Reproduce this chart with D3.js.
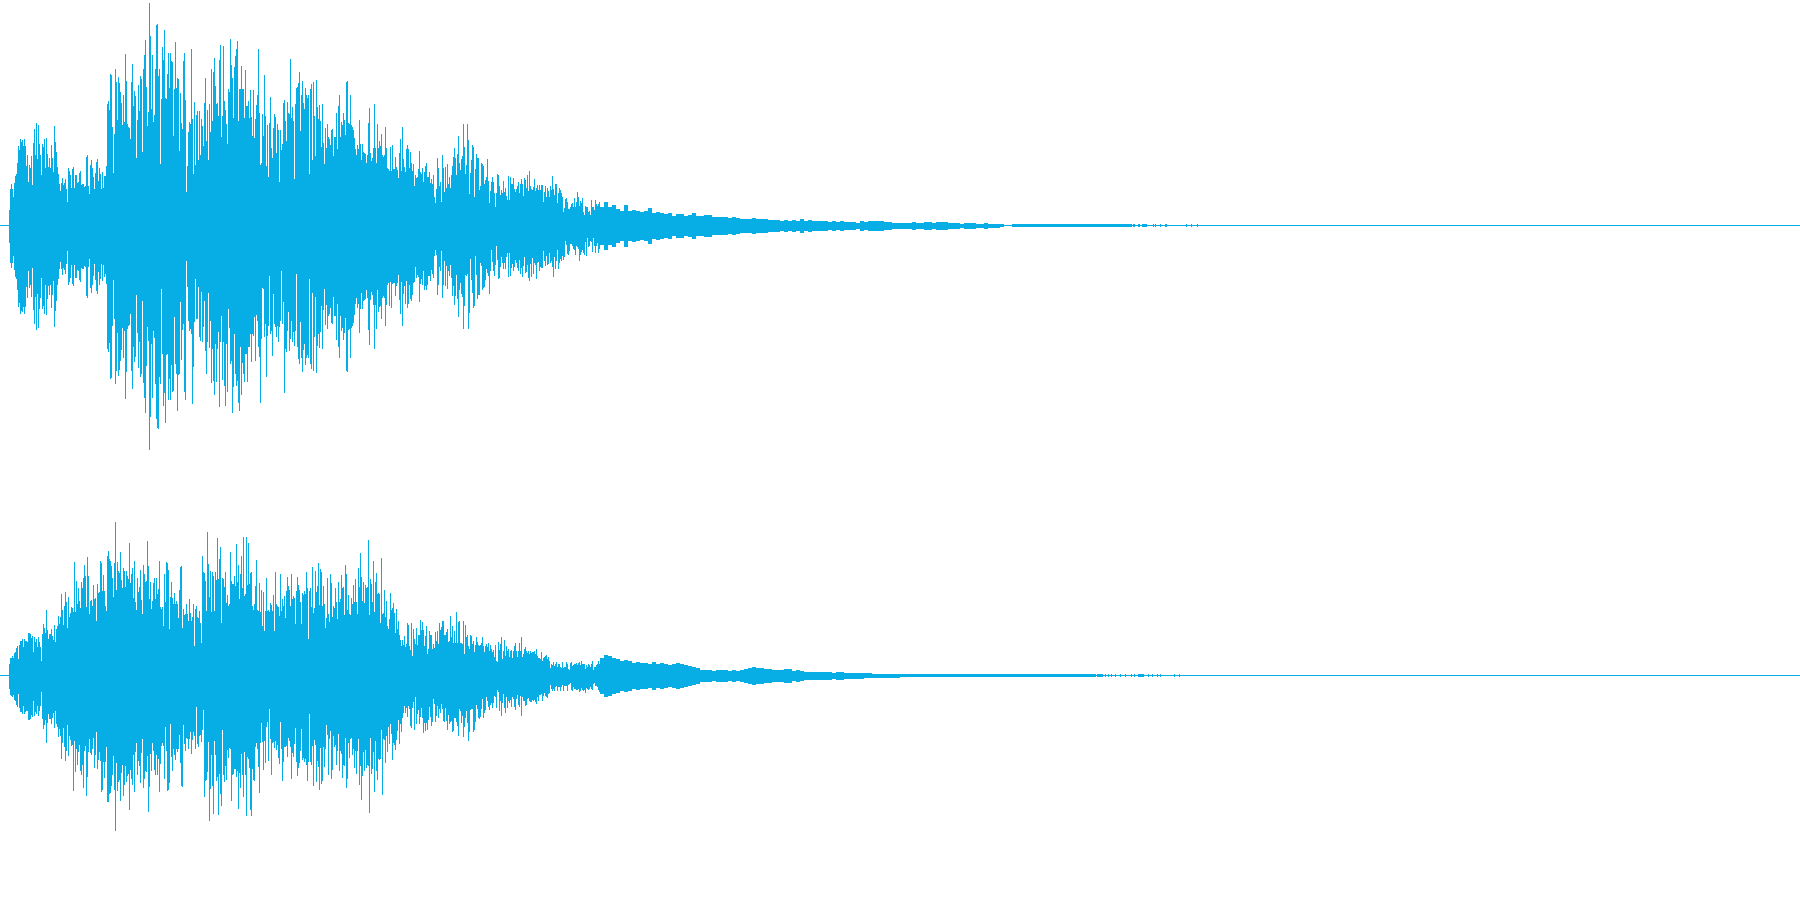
<!DOCTYPE html>
<html><head><meta charset="utf-8">
<style>html,body{margin:0;padding:0;background:#fff;overflow:hidden}svg{display:block}</style>
<script src="https://cdn.jsdelivr.net/npm/d3@7"></script></head><body>
<script>
// Peak levels per column; full scale is 225. Early arrays start at sample 9, late arrays at sample 300.
const ch1TopEarly=[16,37,42,37,29,43,50,52,63,80,76,87,84,86,80,87,80,60,71,44,
61,58,70,41,83,97,71,103,67,101,82,71,51,82,79,87,58,88,72,59,
68,58,81,68,54,100,84,74,59,52,42,35,43,48,41,43,47,37,24,58,
55,51,38,57,59,38,51,51,43,44,53,55,41,42,42,39,40,69,71,40,
32,61,66,58,49,37,53,64,67,45,58,52,37,54,38,50,50,60,122,125,
116,152,151,99,53,92,157,144,106,149,143,134,123,101,131,104,172,145,102,99,
98,87,144,162,120,135,130,68,106,141,115,150,147,74,157,171,186,139,100,114,
223,190,117,171,104,111,157,201,202,150,157,62,127,179,166,196,128,127,152,173,
138,173,165,164,90,137,184,138,148,147,75,133,103,97,165,173,126,34,60,94,
104,102,177,107,52,124,61,111,115,66,115,71,107,100,80,123,148,85,116,66,
122,94,157,105,154,168,140,122,123,110,166,181,89,110,180,125,116,102,82,137,
134,187,161,148,108,159,170,177,185,105,137,137,160,137,137,108,156,120,120,125,
108,136,109,90,136,88,107,121,131,177,113,61,63,112,90,151,110,60,101,49,
103,129,78,68,98,112,109,73,102,96,44,96,76,82,123,126,105,85,124,113,
112,167,108,119,105,47,122,138,139,143,154];
const ch1TopLate=[95,131,145,123,117,138,131,128,131,52,137,142,66,144,110,70,146,119,107,121,
105,79,122,83,62,98,78,102,89,87,81,96,97,70,89,89,113,77,120,131,
89,104,101,113,106,91,144,145,103,102,131,101,99,96,88,77,71,81,77,106,
82,66,82,74,73,72,63,71,103,118,73,65,68,78,122,78,63,102,78,85,
80,92,71,69,71,99,78,58,57,55,79,55,81,57,57,69,59,56,48,73,
87,55,99,67,59,54,77,81,77,58,74,63,55,62,40,51,48,49,57,75,
54,52,58,44,54,60,63,49,49,54,43,47,42,51,29,23,37,68,58,40,
44,24,71,58,34,59,38,62,42,49,38,51,60,69,78,68,51,72,90,63,
56,67,70,102,79,52,61,102,86,32,53,66,81,79,29,57,72,68,68,36,
40,63,62,60,42,46,49,67,45,23,35,44,49,44,33,19,33,52,51,40,
31,36,33,45,34,38,30,26,50,26,49,42,42,48,37,34,37,40,44,33,
42,47,42,30,48,46,38,51,35,55,40,37,36,39,47,35,38,41,36,41,
36,41,41,24,34,40,29,38,35,29,40,36,50,37,31,42,42,23,33,38,
36,33,29,14,18,27,28,24,17,17,19,22,23,19,28,19,24,34,29,20,
25,23,28,14,11,20,19,19,14,15,11,26,19,19,16,26,22,20,22,24];
const ch1BottomEarly=[17,37,42,37,30,44,51,53,64,81,77,88,85,86,81,88,81,61,72,45,
62,59,71,42,84,98,71,104,68,102,83,72,52,83,80,88,59,89,73,60,
69,59,82,69,55,101,85,75,59,53,43,36,43,49,42,44,48,38,25,59,
56,52,39,58,60,39,52,52,44,45,54,56,42,43,43,40,41,70,72,41,
33,62,67,59,50,38,54,65,68,46,59,53,38,55,39,51,48,58,123,126,
117,153,152,100,54,93,158,145,107,150,144,135,124,102,132,105,173,146,103,100,
99,88,145,163,121,136,131,69,107,142,116,151,148,75,157,172,187,140,101,115,
224,191,118,172,105,112,158,193,202,203,151,158,63,128,180,167,197,129,128,174,
153,174,139,166,165,91,138,148,185,149,148,76,134,104,98,166,174,35,61,95,
105,103,108,178,141,96,53,93,93,61,111,115,66,116,101,75,125,148,116,67,122,95,
157,123,155,169,118,156,123,106,181,116,90,154,116,160,180,118,166,83,102,138,
135,187,161,108,148,160,155,177,185,121,169,137,148,156,128,128,156,121,121,108,
136,108,110,91,135,89,95,121,131,177,113,62,63,111,98,151,110,100,50,108,
105,130,68,98,101,111,100,116,101,95,45,98,76,167,123,126,105,86,125,113,
95,116,106,120,105,48,121,133,138,155];
const ch1BottomLate=[96,132,146,124,118,139,132,129,132,53,138,143,67,145,111,71,147,120,108,122,
106,80,123,84,63,99,79,103,90,88,82,97,98,71,90,90,114,78,121,132,
90,105,102,114,107,92,145,146,104,103,132,102,100,97,89,78,72,82,78,107,
83,67,83,75,74,73,64,72,104,119,74,66,69,79,123,79,103,64,86,81,
80,93,72,70,72,100,79,59,57,80,56,82,58,57,57,70,60,57,49,74,
88,56,100,68,60,78,55,82,78,59,73,75,69,57,56,41,52,49,51,76,
58,53,59,45,64,60,64,59,50,50,55,44,48,52,30,24,29,69,59,41,
45,25,72,59,35,60,40,63,45,50,39,52,70,60,79,70,49,73,91,64,
57,68,71,103,80,49,50,48,103,87,33,54,67,82,80,30,49,73,69,69,
37,40,64,62,61,54,43,47,50,68,45,24,36,45,50,39,20,34,53,52,
41,31,37,43,37,43,31,27,51,27,50,42,38,45,41,34,37,42,45,34,
48,42,51,40,31,47,46,39,52,55,38,51,32,48,37,39,53,37,36,45,
41,42,42,25,35,40,30,39,38,27,37,35,41,51,31,43,35,24,43,37,
33,35,30,34,31,15,19,28,29,25,18,18,20,23,24,29,20,21,23,35,
29,26,24,27,29,16,30,12,21,20,15,16,26,12,20,27,20,17,27,23];
const ch2TopEarly=[12,18,18,20,18,23,24,28,30,17,31,35,35,37,29,37,35,35,34,43,
43,42,38,40,24,39,34,37,29,39,34,29,15,42,52,48,43,66,46,37,
42,42,47,40,36,51,34,47,50,60,52,59,82,66,51,70,84,74,48,79,
59,63,69,68,64,114,64,95,72,88,75,68,94,88,98,111,100,69,119,100,
62,75,76,70,91,77,78,55,92,83,84,115,113,85,101,85,70,65,120,
125,117,115,110,98,79,113,154,86,114,105,103,124,96,88,108,105,89,105,100,
97,133,93,102,108,78,115,74,66,98,84,89,106,76,62,111,102,94,95,135,
110,77,94,67,75,93,98,77,98,82,87,115,69,67,69,50,102,74,114,113,
106,47,79,94,78,72,83,72,75,72,58,86,109,110,48,67,61,62,72,62,
55,77,63,55,59,72,30,67,70,59,58,65,53,33,120,104,103,95,65,144,
112,79,105,64,104,100,65,104,96,138,97,117,129,53,98,97,89,104,73,81,
70,72,124,95,92,92,100,90,132,94,111,77,102,120,88,139,80,82,139,91,
133,92,103,104,70,66,72,90,116,66,65,93,64,86,50,84,45,65,98,65,
66,64,73,71,65,81,45,104,72,70,69,60,102,65,77,70,80,58,85,99,
90,86,70,102,77,80,78,52,85,99,91,86];
const ch2TopLate=[74,52,83,81,85,82,104,88,37,85,88,69,109,63,68,105,84,90,113,71,
107,104,70,90,72,48,58,98,62,54,102,93,59,70,68,88,74,57,94,74,
77,101,88,89,61,111,102,66,81,62,61,78,72,91,74,97,74,62,108,89,
123,99,75,94,73,91,88,89,136,61,97,92,74,115,64,94,103,82,83,82,
53,118,62,63,86,59,75,50,47,57,83,66,68,73,63,43,67,47,55,41,
36,30,36,31,40,29,32,53,51,30,26,53,20,47,37,32,48,31,41,41,
56,46,54,46,30,40,50,22,27,45,41,41,27,32,28,44,35,45,32,53,
46,49,55,55,41,41,44,47,34,35,60,39,50,33,45,33,64,33,54,55,
33,33,32,55,22,51,39,41,30,27,41,40,32,35,24,31,39,34,31,30,
31,33,39,30,24,30,32,29,33,25,31,27,24,26,19,31,15,14,34,26,
32,39,17,25,36,20,30,25,27,19,25,26,18,25,30,33,25,19,25,33,
25,39,19,22,27,29,25,23,25,22,25,23,24,24,25,22,27,20,18,18,
17,24,15,18,19,20,21,17,19,15,8,12,11,14,10,12,14,9,12,12,
9,8,14,8,9,9,14,12,7,6,13,14,10,11,12,12,13,11,13,14,
11,15,12,12,12,7,11,9,12,11,9,12,15,6,9,9,11,12,15,12];
const ch2BottomEarly=[13,19,20,21,19,24,25,29,31,18,32,36,36,38,30,38,36,35,35,44,
44,43,39,41,25,40,36,38,30,40,35,30,16,43,53,49,44,67,47,38,
43,43,48,42,37,52,35,48,51,61,53,60,83,67,52,71,85,75,49,80,
60,64,70,69,115,65,96,73,89,76,69,95,99,89,112,75,70,120,101,76,
63,77,79,73,62,92,79,56,93,84,76,85,116,114,86,102,86,71,126,126,
118,117,110,99,80,114,155,87,115,106,104,125,97,89,120,109,90,106,100,98,
134,94,103,109,79,116,76,67,99,85,90,107,77,63,112,103,95,96,80,136,
111,78,95,67,75,94,99,79,99,83,116,88,70,67,70,103,51,75,115,114,
107,48,81,95,73,79,84,73,76,73,59,87,110,111,49,68,75,62,63,73,
63,56,78,64,56,60,73,31,68,71,60,59,66,54,34,121,105,104,96,66,
145,113,79,110,138,65,79,105,101,139,98,118,130,54,99,106,90,104,74,82,
72,73,125,99,98,93,93,101,95,133,97,112,78,99,121,76,99,140,81,83,
92,134,140,93,104,105,71,67,73,91,117,67,47,66,94,65,87,51,46,85,
33,63,99,67,66,72,65,74,69,82,88,46,73,105,86,71,71,70,81,62,
65,71,103,77,81,68,52,86,100,92,87];
const ch2BottomLate=[75,53,84,82,86,83,89,105,86,38,86,89,70,110,64,69,106,85,91,114,
72,108,105,71,91,73,49,59,99,63,55,103,94,60,71,69,89,75,58,95,
75,78,102,89,90,62,112,103,67,82,63,62,79,73,92,75,98,75,63,109,
90,124,100,76,95,74,92,89,90,137,62,98,93,76,116,65,95,104,83,84,
83,54,119,63,64,87,60,76,51,68,48,58,84,67,69,74,64,55,44,68,
48,56,42,37,30,37,32,41,30,33,50,52,32,26,54,21,48,38,34,48,
41,32,42,57,47,55,47,54,44,31,41,50,46,23,28,46,40,30,42,33,
37,28,33,45,46,32,45,54,39,48,46,45,56,55,42,42,46,50,60,33,
35,47,40,61,51,42,35,47,65,56,34,33,33,56,54,46,29,33,42,43,
41,33,23,42,37,34,21,25,31,34,29,27,32,27,20,21,32,14,16,35,
25,40,27,18,32,37,21,32,25,27,24,31,21,23,31,34,23,19,29,31,
20,40,21,25,25,30,29,23,22,25,26,26,24,25,24,26,28,21,25,19,
19,18,25,20,17,20,21,22,18,17,9,13,15,13,15,11,10,15,11,11,
15,11,9,15,10,10,10,15,9,8,7,14,15,11,13,13,14,14,13,16,
15,12,14,15,14,17,12,13,14,13,11,13,14,8,7,10,10,11,14,16];
// Decay tail: one symmetric level per 4 samples, starting at sample 600.
const tailStep=4;
const ch1Tail=[19,24,19,21,17,15,21,15,16,15,14,15,18,13,14,13,12,13,10,12,12,10,11,13,10,10,11,11,9,9,9,9,8,9,8,7,7,7,8,7,7,7,6,6,6,5,6,5,6,5,7,5,6,5,5,5,5,4,5,4,5,4,4,4,3,
5,4,5,5,5,5,4,4,3,3,3,3,3,4,3,3,4,4,3,4,4,4,3,3,3,2,3,3,3,2,2,3,2,2,2,1.5,0,0,1.5,1.5,1.5,1.5,1.5,1.5,1.5,1.5,1.5,1.5,1.5,1.5,1.5,1.5,1.5,1.5,1.5,1.5,1.5,1.5,1.5,1.5,1.5,1.5,1.5,1.5,1.5,1.5,1.5,1.5];
const ch2Tail=[18,21,20,18,17,15,16,15,13,14,13,13,12,14,12,13,12,11,12,13,12,11,10,9,8,6,6,6,5,6,6,6,5,6,5,6,7,8,9,8,8,7,7,6,6,6,7,7,5,6,5,4,4,4,4,4,4,4,3,4,4,3,3,3,3,
3,2.5,2.5,2,2,2,2,2,2,2,1.5,1.5,1.5,1.5,1.5,1.5,1.5,1.5,1.5,1.5,1.5,1.5,1.5,1.5,1.5,1.5,1.5,1.5,1.5,1.5,1.5,1.5,1.5,1.5,1.5,1.5,1.5,1.5,1.5,1.5,1.5,1.5,1.5,1.5,1.5,1.5,1.5,
1.5,1.5,1.5,1.5,1.5,1.5,1.5,1.5,1.5,1.5,1.5,1.5];
// Isolated late samples that still rise above the zero line.
const ch1Clicks=[1133,1134,1138,1139,1142,1143,1144,1145,1146,1153,1155,1160,1165,1166,1186,1191,1197];
const ch2Clicks=[1092,1093,1094,1095,1097,1098,1099,1100,1101,1102,1105,1108,1111,1115,1120,1125,1131,1134,1138,1139,1140,1141,1142,1143,1148,1152,1157,1160,1174,1179];
const clickLevel=1.5;
const earlyStart=9, lateStart=300, tailStart=600, totalSamples=1800, fullScale=225;

const width=1800,height=900,color="#07aee6";
const svg=d3.select("body").append("svg").attr("width",width).attr("height",height)
  .attr("shape-rendering","crispEdges");
const x=d3.scaleLinear().domain([0,totalSamples]).range([0,width]);
const bands=[[0.5,450.5],[450.5,900.5]];

function columns(top,bottom,start){
  return d3.range(Math.min(top.length,bottom.length)).map(i=>({s:start+i,w:1,top:top[i],bottom:bottom[i]}));
}
function drawChannel(band,cols,tail,clicks){
  const y=d3.scaleLinear().domain([-fullScale,fullScale]).range([band[1],band[0]]);
  const g=svg.append("g");
  g.append("rect").attr("x",x(0)).attr("width",x(totalSamples)-x(0))
    .attr("y",Math.floor(y(0))).attr("height",1).attr("fill",color);
  const all=cols.concat(
    tail.map((v,i)=>({s:tailStart+i*tailStep,w:tailStep,top:v,bottom:v})),
    clicks.map(s=>({s,w:1,top:clickLevel,bottom:clickLevel})));
  g.selectAll("rect.c").data(all.filter(d=>d.top>0)).join("rect").attr("class","c")
    .attr("x",d=>x(d.s)).attr("width",d=>x(d.s+d.w)-x(d.s))
    .attr("y",d=>y(d.top)).attr("height",d=>y(-d.bottom)-y(d.top))
    .attr("fill",color);
}
drawChannel(bands[0],columns(ch1TopEarly,ch1BottomEarly,earlyStart).concat(columns(ch1TopLate,ch1BottomLate,lateStart)),ch1Tail,ch1Clicks);
drawChannel(bands[1],columns(ch2TopEarly,ch2BottomEarly,earlyStart).concat(columns(ch2TopLate,ch2BottomLate,lateStart)),ch2Tail,ch2Clicks);
</script>
</body></html>
